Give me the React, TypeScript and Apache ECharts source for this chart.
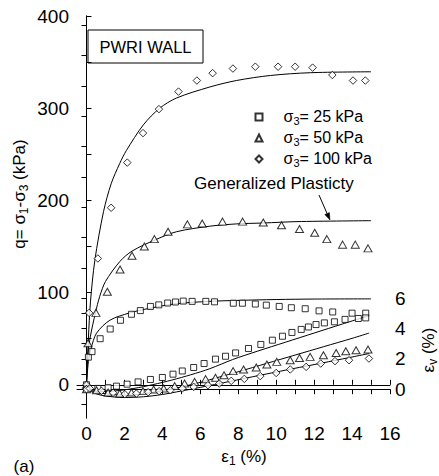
import React, { useEffect, useRef } from "react";
import * as echarts from "echarts";

// ---------- tick values ----------
const xLabelValues = [0, 2, 4, 6, 8, 10, 12, 14, 16];
const xTickValues = [0, 1, 2, 3, 4, 5, 6, 7, 8, 9, 10, 11, 12, 13, 14, 15, 16];
const qLabelValues = [0, 100, 200, 300, 400];
const qTickValues = [0, 50, 100, 150, 200, 250, 300, 350, 400];
const evLabelValues = [0, 2, 4, 6];
const evTickValues = [-1, 0, 1, 2, 3, 4, 5, 6, 8, 10, 12, 14, 16, 18, 20, 22, 24];

// ---------- deviator stress data (kPa) ----------
const sq25X = [0, 0.1, 0.29, 0.72, 1.25, 1.79, 2.37, 2.84, 3.37, 3.81, 4.28, 4.69, 5.1, 5.57, 6.29, 6.75, 7.74, 8.22, 8.9, 9.48, 10.16, 10.8, 11.53, 12.26, 12.98, 14.0, 14.72];
const sq25Q = [0, 30, 36, 50, 60.5, 70, 76.5, 80.5, 85, 86.7, 88.7, 89.8, 90.8, 90.5, 90.5, 90, 88.5, 88.5, 87.6, 86.4, 85, 83.6, 82.5, 80.2, 79, 77.7, 77.7];

const tr50X = [0, 0.08, 0.5, 1.1, 1.77, 2.4, 3.05, 3.58, 4.3, 5.32, 6.1, 7.17, 8.23, 9.32, 10.28, 11.23, 12.03, 12.67, 13.5, 14.17, 14.84];
const tr50Q = [0, 45, 78, 101, 125, 140, 150, 158, 166, 174, 175, 177, 177, 176, 173, 169, 165, 158, 152, 152, 148];

const di100X = [0, 0.14, 0.6, 1.3, 2.15, 2.98, 3.82, 4.85, 5.82, 6.65, 7.72, 8.9, 10.1, 11.0, 11.92, 12.96, 14.05, 14.7];
const di100Q = [0, 78, 137, 192, 241, 273, 299, 318, 330, 338, 343, 345, 345, 345, 344, 336, 330, 330];

// ---------- volumetric strain data (%) ----------
const evSq25X = [0, 0.6, 1.14, 1.58, 2.14, 2.72, 3.37, 4.0, 4.56, 5.05, 5.65, 6.2, 6.8, 7.33, 7.86, 8.54, 9.19, 9.8, 10.33, 10.83, 11.32, 11.7, 12.1, 12.54, 13.07, 13.63, 14.33, 14.72];
const evSq25V = [0, 0.05, 0.1, 0.2, 0.33, 0.48, 0.64, 0.77, 0.99, 1.2, 1.43, 1.69, 1.98, 2.17, 2.39, 2.68, 2.95, 3.23, 3.49, 3.74, 3.94, 4.1, 4.26, 4.37, 4.44, 4.6, 4.66, 4.7];

const evTr50X = [0, 0.53, 1.14, 1.75, 2.37, 2.98, 3.54, 4.07, 4.65, 5.17, 5.7, 6.28, 6.8, 7.25, 7.73, 8.28, 8.95, 9.51, 10.03, 10.74, 11.23, 11.79, 12.49, 13.16, 13.67, 14.21, 14.84];
const evTr50V = [0, -0.07, -0.22, -0.29, -0.22, -0.13, -0.02, 0.05, 0.2, 0.37, 0.48, 0.66, 0.75, 0.92, 1.19, 1.3, 1.43, 1.63, 1.8, 1.91, 2.06, 2.13, 2.24, 2.39, 2.5, 2.57, 2.62];

const evDi100X = [0, 0.17, 0.79, 1.4, 2.02, 2.63, 3.25, 3.83, 4.42, 5.05, 5.65, 6.4, 7.0, 7.63, 8.32, 9.16, 10.0, 10.74, 11.58, 12.35, 13.1, 13.84, 14.89];
const evDi100V = [0, 0.05, -0.11, -0.24, -0.33, -0.29, -0.2, -0.13, -0.07, 0.05, 0.15, 0.26, 0.37, 0.55, 0.68, 0.86, 1.07, 1.3, 1.47, 1.69, 1.85, 1.91, 2.02];

// ---------- Generalized Plasticity model curves ----------
const gp25X = [0, 0.1, 0.25, 0.53, 1.23, 2.28, 3.33, 4.74, 6.49, 7.9, 10, 12, 15];
const gp25Q = [0, 25, 40, 56, 70, 78, 83, 88, 90.5, 91.5, 92.5, 93, 93.2];

const gp50X = [0, 0.08, 0.2, 0.47, 0.7, 1.0, 1.77, 2.4, 3.6, 4.74, 6.49, 7.9, 9.33, 11.1, 15];
const gp50Q = [0, 35, 52, 78, 96, 112, 134, 145, 157, 166, 172, 174.5, 175.5, 177, 178];

const gp100X = [0, 0.1, 0.21, 0.44, 0.9, 1.3, 1.75, 2.1, 3.0, 3.86, 4.74, 6.5, 7.9, 9.7, 11.8, 15];
const gp100Q = [0, 50, 90, 135, 188, 218, 240, 254, 282, 300, 311, 323, 330, 335.5, 338.5, 339.5];

const gpEv25X = [0, 0.5, 1.0, 1.5, 2.5, 3.5, 4.5, 5.5, 6.5, 7.7, 9, 10.5, 12, 13.5, 14.9];
const gpEv25V = [0, -0.1, -0.15, -0.12, 0.05, 0.3, 0.6, 0.95, 1.35, 1.95, 2.5, 3.1, 3.7, 4.3, 4.85];

const gpEv50X = [0, 0.5, 1, 2, 3, 4, 5, 6, 7, 8, 9.5, 11, 12.5, 14, 14.9];
const gpEv50V = [0, -0.2, -0.3, -0.4, -0.3, -0.1, 0.15, 0.45, 0.8, 1.15, 1.7, 2.25, 2.8, 3.35, 3.7];

const gpEv100X = [0, 0.5, 1, 2, 3, 4, 5, 6, 7, 7.9, 9, 10, 11, 12, 13, 14, 14.9];
const gpEv100V = [0, -0.3, -0.45, -0.55, -0.5, -0.35, -0.12, 0.12, 0.37, 0.6, 0.88, 1.13, 1.38, 1.62, 1.87, 2.12, 2.35];

const legendNames = ["s25", "s50", "s100"];
const legendTexts: Record<string, string> = {
  s25: "{m|σ}{s|3}{m|= 25 kPa}",
  s50: "{m|σ}{s|3}{m|= 50 kPa}",
  s100: "{m|σ}{s|3}{m|= 100 kPa}",
};

const FONT = "'Liberation Sans', Arial, Helvetica, sans-serif";

const zip = (xs: number[], ys: number[]) => xs.map((x, i) => [x, ys[i]]);

const richSub = (size: number) => ({
  m: { fontSize: size, fontFamily: FONT, color: "#000", lineHeight: size + 2, verticalAlign: "top" as const },
  s: { fontSize: Math.round(size * 0.68), fontFamily: FONT, color: "#000", lineHeight: 9, verticalAlign: "bottom" as const },
});

const markerStyle = { color: "#fff", borderColor: "#000", borderWidth: 1 };

function scatter(name: string, data: number[][], symbol: string, size: number | number[], yAxisIndex: number) {
  return {
    type: "scatter",
    name,
    data,
    symbol,
    symbolSize: size,
    xAxisIndex: 0,
    yAxisIndex,
    itemStyle: markerStyle,
    z: 4,
    silent: true,
  };
}

function curve(name: string, data: number[][], yAxisIndex: number) {
  return {
    type: "line",
    name,
    data,
    xAxisIndex: 0,
    yAxisIndex,
    showSymbol: false,
    symbol: "none",
    smooth: 0.3,
    lineStyle: { color: "#000", width: 1 },
    z: 2,
    silent: true,
  };
}

export default function App() {
  const ref = useRef<HTMLDivElement>(null);

  useEffect(() => {
    if (!ref.current) return;
    const chart = echarts.init(ref.current, null, { renderer: "svg" });

    const axisLine = { show: true, lineStyle: { color: "#000", width: 1 } };
    const tickStyle = { color: "#000", width: 1 };
    const labelStyle = { color: "#000", fontSize: 19, fontFamily: FONT };

    const tipX = 330, tipY = 220, baseX = 327.1, baseY = 213.6;

    const option: any = {
      animation: false,
      backgroundColor: "#fff",
      grid: { left: 77, top: 16, width: 313, height: 402, containLabel: false },
      xAxis: [
        {
          type: "value",
          position: "bottom",
          min: -0.5,
          max: 16,
          axisLine,
          axisTick: { show: true, inside: true, length: 5, lineStyle: tickStyle, customValues: xTickValues },
          axisLabel: { ...labelStyle, margin: 6, customValues: xLabelValues },
          splitLine: { show: false },
        },
        {
          type: "value",
          position: "top",
          min: -0.5,
          max: 16,
          axisLine,
          axisTick: { show: true, inside: true, length: 5, lineStyle: tickStyle, customValues: xTickValues },
          axisLabel: { show: false },
          splitLine: { show: false },
        },
      ],
      yAxis: [
        {
          type: "value",
          position: "left",
          min: -36,
          max: 400,
          axisLine,
          axisTick: { show: true, inside: true, length: 5, lineStyle: tickStyle, customValues: qTickValues },
          axisLabel: { ...labelStyle, margin: 8, customValues: qLabelValues },
          splitLine: { show: false },
        },
        {
          type: "value",
          position: "right",
          min: -1.9,
          max: 24.6,
          axisLine,
          axisTick: { show: true, inside: true, length: 5, lineStyle: tickStyle, customValues: evTickValues },
          axisLabel: { ...labelStyle, margin: 5, customValues: evLabelValues },
          splitLine: { show: false },
        },
      ],
      legend: {
        data: legendNames,
        orient: "vertical",
        left: 249.5,
        top: 103,
        itemWidth: 7,
        itemHeight: 7,
        itemGap: 3,
        selectedMode: false,
        formatter: (name: string) => legendTexts[name],
        textStyle: { fontSize: 16, fontFamily: FONT, color: "#000", padding: [0, 0, 0, 16], rich: richSub(16) },
      },
      series: [
        curve("gp25", zip(gp25X, gp25Q), 0),
        curve("gp50", zip(gp50X, gp50Q), 0),
        curve("gp100", zip(gp100X, gp100Q), 0),
        curve("gpEv25", zip(gpEv25X, gpEv25V), 1),
        curve("gpEv50", zip(gpEv50X, gpEv50V), 1),
        curve("gpEv100", zip(gpEv100X, gpEv100V), 1),
        scatter("s25", zip(sq25X, sq25Q), "rect", 6, 0),
        scatter("s50", zip(tr50X, tr50Q), "triangle", [8, 7], 0),
        scatter("s100", zip(di100X, di100Q), "diamond", 7.5, 0),
        scatter("ev25", zip(evSq25X, evSq25V), "rect", 6, 1),
        scatter("ev50", zip(evTr50X, evTr50V), "triangle", [8, 7], 1),
        scatter("ev100", zip(evDi100X, evDi100V), "diamond", 7.5, 1),
      ],
      graphic: [
        {
          type: "rect",
          shape: { x: 88, y: 30, width: 115, height: 33 },
          style: { fill: "none", stroke: "#000", lineWidth: 1 },
          z: 10,
        },
        {
          type: "text",
          x: 145.5,
          y: 47,
          style: { text: "PWRI WALL", fontSize: 16.5, fontFamily: FONT, fill: "#000", align: "center", verticalAlign: "middle" },
          z: 10,
        },
        {
          type: "text",
          x: 194,
          y: 183,
          style: { text: "Generalized Plasticty", fontSize: 17, fontFamily: FONT, fill: "#000", align: "left", verticalAlign: "middle" },
          z: 10,
        },
        {
          type: "line",
          shape: { x1: 319, y1: 195, x2: baseX, y2: baseY },
          style: { stroke: "#000", lineWidth: 1 },
          z: 10,
        },
        {
          type: "polygon",
          shape: { points: [[tipX, tipY], [baseX + 2.3, baseY - 1.0], [baseX - 2.3, baseY + 1.0]] },
          style: { fill: "#000", stroke: "#000", lineWidth: 0.5 },
          z: 10,
        },
        {
          type: "text",
          x: 20,
          y: 194,
          rotation: Math.PI / 2,
          style: {
            text: "{m|q= σ}{s|1}{m|-σ}{s|3}{m| (kPa)}",
            align: "center",
            verticalAlign: "middle",
            rich: richSub(17),
          },
          z: 10,
        },
        {
          type: "text",
          x: 244,
          y: 457,
          style: { text: "{m|ε}{s|1}{m| (%)}", align: "center", verticalAlign: "middle", rich: richSub(17) },
          z: 10,
        },
        {
          type: "text",
          x: 429,
          y: 350,
          rotation: Math.PI / 2,
          style: { text: "{m|ε}{s|v}{m| (%)}", align: "center", verticalAlign: "middle", rich: richSub(17) },
          z: 10,
        },
        {
          type: "text",
          x: 24,
          y: 466,
          style: { text: "(a)", fontSize: 17, fontFamily: FONT, fill: "#000", align: "center", verticalAlign: "middle" },
          z: 10,
        },
      ],
    };

    chart.setOption(option);
    return () => chart.dispose();
  }, []);

  return (
    <div
      ref={ref}
      style={{ position: "fixed", left: 0, top: 0, width: 439, height: 476, background: "#fff" }}
    />
  );
}
